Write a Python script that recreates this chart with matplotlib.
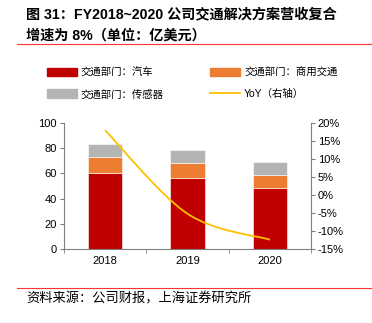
import matplotlib.pyplot as plt
import numpy as np
from matplotlib.patches import Patch, PathPatch
from matplotlib.lines import Line2D
from matplotlib.path import Path

plt.rcParams["font.family"] = ["Liberation Sans", "Noto Sans CJK SC", "DejaVu Sans"]

# Data.
years = ["2018", "2019", "2020"]
auto = [60.5, 56.3, 48.7]
commercial = [12.7, 12.1, 10.2]
sensors = [10.5, 10.5, 10.0]
yoy = [18.0, -5.2, -12.4]

series_labels = ["交通部门：汽车", "交通部门：商用交通", "交通部门：传感器", "YoY（右轴）"]
colors = ["#C00000", "#ED7D31", "#B4B4B4", "#FFC000"]


def excel_smooth_path(xs, ys):
    """Cubic Bezier path through the points, like Excel's smoothed line."""
    pts = np.column_stack([xs, ys])
    verts = [pts[0]]
    codes = [Path.MOVETO]
    n = len(pts)
    for i in range(n - 1):
        p0 = pts[i - 1] if i > 0 else pts[i]
        p1, p2 = pts[i], pts[i + 1]
        p3 = pts[i + 2] if i + 2 < n else pts[i + 1]
        c1 = p1 + (p2 - p0) / 6.0
        c2 = p2 - (p3 - p1) / 6.0
        verts += [c1, c2, p2]
        codes += [Path.CURVE4] * 3
    return Path(verts, codes)


fig = plt.figure(figsize=(3.72, 3.23), dpi=100)
ax = fig.add_axes([0.172, 0.229, 0.664, 0.390])
x = np.arange(len(years))
w = 0.42

auto_arr = np.array(auto)
comm_arr = np.array(commercial)
ax.bar(x, auto, w, color=colors[0], edgecolor="white", linewidth=0.4)
ax.bar(x, commercial, w, bottom=auto_arr, color=colors[1], edgecolor="white", linewidth=0.4)
ax.bar(x, sensors, w, bottom=auto_arr + comm_arr, color=colors[2], edgecolor="white", linewidth=0.4)

ax.set_xlim(-0.5, 2.5)
ax.set_ylim(0, 100)
ax.set_yticks(range(0, 101, 20))
ax.set_xticks(x)
ax.set_xticklabels(years)
ax.set_xticks([-0.5, 0.5, 1.5, 2.5], minor=True)
ax.tick_params(axis="x", which="major", length=0, labelsize=8, pad=5)
ax.tick_params(axis="x", which="minor", length=3, color="#808080", direction="out")
ax.tick_params(axis="y", length=3, color="#808080", labelsize=8, pad=2)
ax.spines["top"].set_visible(False)
ax.spines["right"].set_visible(False)
for s in ["left", "bottom"]:
    ax.spines[s].set_color("#808080")
    ax.spines[s].set_linewidth(0.8)

ax2 = ax.twinx()
ax2.set_ylim(-15, 20)
ax2.set_yticks(range(-15, 21, 5))
ax2.set_yticklabels([f"{v}%" for v in range(-15, 21, 5)])
ax2.tick_params(axis="y", length=3, color="#808080", labelsize=8, pad=2)
for s in ["top", "left", "bottom"]:
    ax2.spines[s].set_visible(False)
ax2.spines["right"].set_color("#808080")
ax2.spines["right"].set_linewidth(0.8)

ax2.add_patch(PathPatch(excel_smooth_path(x, yoy), facecolor="none",
                        edgecolor=colors[3], linewidth=1.3))

# Column-major fill: order so rows read auto|commercial, sensors|YoY.
handles = [Patch(color=colors[0]), Patch(color=colors[2]), Patch(color=colors[1]),
           Line2D([], [], color=colors[3], linewidth=1.3)]
labels = [series_labels[0], series_labels[2], series_labels[1], series_labels[3]]
fig.legend(handles, labels, ncol=2, loc="upper left",
           bbox_to_anchor=(0.10, 0.82), frameon=False, fontsize=7.5,
           handlelength=2.9, handleheight=0.9, columnspacing=4.4,
           labelspacing=1.1, handletextpad=0.4)

fig.text(0.07, 0.953, "图 31：FY2018~2020 公司交通解决方案营收复合", fontsize=10.2,
         fontweight="bold", va="center")
fig.text(0.07, 0.89, "增速为 8%（单位：亿美元）", fontsize=10.2,
         fontweight="bold", va="center")
fig.add_artist(Line2D([0.045, 1.0], [0.865, 0.865], color="#FF3333", linewidth=0.8))
fig.add_artist(Line2D([0.045, 1.0], [0.108, 0.108], color="#FF3333", linewidth=0.8))
fig.text(0.072, 0.074, "资料来源：公司财报，上海证券研究所", fontsize=9.5,
         va="center", style="italic")

fig.savefig("out.png", dpi=100)
